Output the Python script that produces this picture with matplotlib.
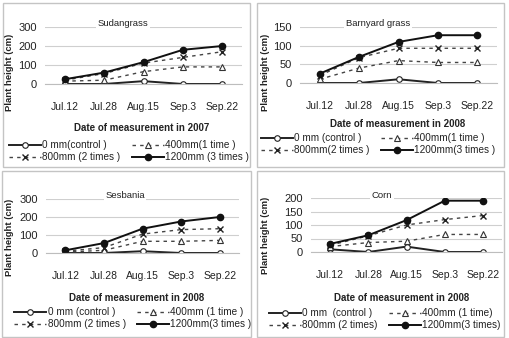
import matplotlib
matplotlib.use('Agg')
import matplotlib.pyplot as plt
from matplotlib.patches import Rectangle

plt.rcParams['font.family'] = ['Liberation Sans', 'DejaVu Sans']

dates = ['Jul.12', 'Jul.28', 'Aug.15', 'Sep.3', 'Sep.22']

# plant height (cm)
sudan_0 = [0, 0, 15, 0, 0]
sudan_400 = [15, 20, 65, 90, 90]
sudan_800 = [20, 55, 110, 140, 170]
sudan_1200 = [25, 60, 115, 180, 200]

barn_0 = [0, 0, 10, 0, 0]
barn_400 = [10, 40, 60, 55, 55]
barn_800 = [20, 68, 93, 93, 93]
barn_1200 = [25, 70, 110, 128, 128]

sesb_0 = [0, 0, 10, 0, 0]
sesb_400 = [5, 15, 65, 65, 70]
sesb_800 = [10, 30, 105, 130, 135]
sesb_1200 = [15, 55, 135, 175, 200]

corn_0 = [10, 0, 20, 0, 0]
corn_400 = [20, 35, 40, 65, 65]
corn_800 = [25, 60, 100, 120, 135]
corn_1200 = [30, 62, 118, 190, 190]

W, H = 509, 338
fig = plt.figure(figsize=(W / 100, H / 100), dpi=100)


def fx(x):
    return x / W


def fy(y):
    return 1 - y / H


def panel(box, area, title, title_xy, data, labels, ymax, ystep, year,
          ylab_xy, xlab_xy, leg_xy):
    bx0, by0, bx1, by1 = box
    fig.patches.append(Rectangle((fx(bx0), fy(by1)), fx(bx1 - bx0), (by1 - by0) / H,
                                 transform=fig.transFigure, fill=False,
                                 edgecolor='#c4c4c4', linewidth=1))
    x0, y0, x1, y1 = area
    ax = fig.add_axes([fx(x0), fy(y1), fx(x1 - x0), (y1 - y0) / H])
    xs = range(len(dates))
    styles = [
        dict(color='#222222', lw=1.4, ls='-', marker='o', ms=4, mfc='white', mec='#222222', mew=0.8),
        dict(color='#444444', lw=1.0, ls=(0, (2.5, 3)), marker='^', ms=4.5, mfc='white', mec='#333333', mew=0.8),
        dict(color='#444444', lw=1.0, ls=(0, (2.5, 3)), marker='x', ms=5, mec='#222222', mew=1.0),
        dict(color='#111111', lw=1.4, ls='-', marker='o', ms=4.5, mfc='#111111', mec='#111111'),
    ]
    handles = []
    for vals, st, lab in zip(data, styles, labels):
        h, = ax.plot(xs, vals, label=lab, **st)
        handles.append(h)
    ax.set_xlim(-0.5, len(dates) - 0.5)
    ax.set_ylim(0, ymax)
    ax.set_yticks(range(0, ymax + 1, ystep))
    ax.set_xticks(list(xs))
    ax.set_xticklabels(dates, fontsize=7.5, color='#222222')
    ax.tick_params(axis='y', length=0, pad=6, labelsize=8, labelcolor='#222222')
    ax.tick_params(axis='x', length=0, pad=13)
    ax.grid(axis='y', color='#cfcfcf', lw=0.8)
    ax.set_axisbelow(True)
    for s in ['left', 'right', 'top']:
        ax.spines[s].set_visible(False)
    ax.spines['bottom'].set_color('#bdbdbd')
    ax.spines['bottom'].set_linewidth(0.8)
    fig.text(fx(title_xy[0]), fy(title_xy[1]), title, fontsize=6.8, ha='center', va='center',
             color='#222222', bbox=dict(facecolor='white', edgecolor='none', pad=1))
    fig.text(fx(ylab_xy[0]), fy(ylab_xy[1]), 'Plant height (cm)', rotation=90, fontsize=6.8,
             fontweight='bold', ha='center', va='center', color='#222222')
    fig.text(fx(xlab_xy[0]), fy(xlab_xy[1]), 'Date of measurement in ' + year, fontsize=7,
             fontweight='bold', ha='center', va='center', color='#222222')
    order = [0, 2, 1, 3]
    fig.legend([handles[i] for i in order], [labels[i] for i in order], ncol=2,
               loc='upper left', bbox_to_anchor=(fx(leg_xy[0]), fy(leg_xy[1])),
               frameon=False, fontsize=7.2, handlelength=3.2, handletextpad=0.15,
               columnspacing=1.1, labelspacing=0.2, borderpad=0, borderaxespad=0,
               labelcolor='#222222')
    return ax


panel((3, 3, 250, 167), (45, 27, 242, 84), 'Sudangrass', (123, 24),
      [sudan_0, sudan_400, sudan_800, sudan_1200],
      ['0 mm(control )', '400mm(1 time )', '800mm (2 times )', '1200mm (3 times )'],
      300, 100, '2007', (10, 72), (142, 128), (9, 140))

panel((257, 3, 504, 167), (300, 27, 497, 83), 'Barnyard grass', (378, 24),
      [barn_0, barn_400, barn_800, barn_1200],
      ['0 mm (control )', '400mm(1 time )', '800mm(2 times )', '1200mm(3 times )'],
      150, 50, '2008', (265, 72), (398, 124), (261, 133))

panel((2, 171, 251, 337), (46, 199, 239, 253), 'Sesbania', (125, 196),
      [sesb_0, sesb_400, sesb_800, sesb_1200],
      ['0 mm (control )', '400mm (1 time )', '800mm (2 times )', '1200mm(3 times )'],
      300, 100, '2008', (10, 237), (137, 298), (14, 307))

panel((257, 171, 504, 337), (311, 198, 502, 252), 'Corn', (382, 196),
      [corn_0, corn_400, corn_800, corn_1200],
      ['0 mm  (control )', '400mm (1 time)', '800mm (2 times)', '1200mm(3 times)'],
      200, 50, '2008', (266, 235), (402, 298), (269, 308))

fig.savefig('out.png', dpi=100)
